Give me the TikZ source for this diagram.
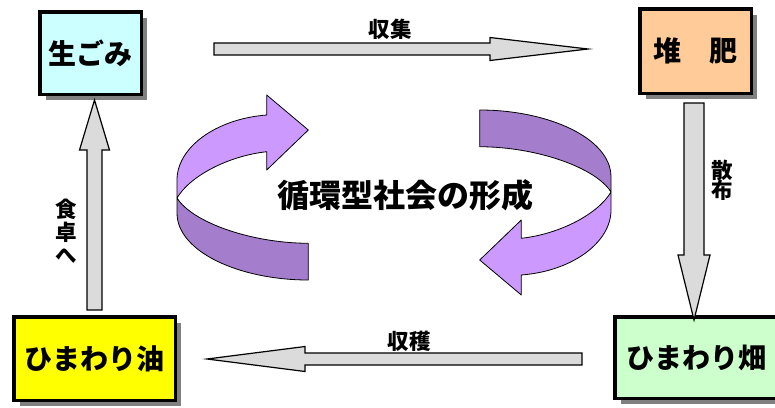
\documentclass[tikz,border=0pt]{standalone}
\usepackage{fontspec}
\setmainfont{Noto Sans CJK JP}
\usetikzlibrary{calc,shadows}
\definecolor{gomi}{HTML}{CCFFFF}
\definecolor{taihi}{HTML}{FFCC99}
\definecolor{abura}{HTML}{FFFF00}
\definecolor{hatake}{HTML}{CCFFCC}
\definecolor{ribbon light}{HTML}{CC99FF}
\definecolor{ribbon dark}{HTML}{A57DCD}
\tikzset{box node/.style={draw, line width=3.5pt, inner sep=0pt,
    font=\fontsize{28}{30}\selectfont\bfseries,
    drop shadow={shadow xshift=6pt, shadow yshift=-6pt, fill=black!50, opacity=1}}}
\tikzset{block arrow/.style={draw, line width=1.2pt, fill=black!14, line join=miter}}
\tikzset{arrow label/.style={font=\fontsize{21.5}{23}\selectfont\bfseries, inner sep=0pt}}
\tikzset{ribbon edge/.style={draw, line width=0.8pt, line join=round}}
% from, to, shaft half width, head half width, head length
\newcommand{\blockarrow}[5]{%
  \coordinate (ba-base) at ($(#2)!#5!(#1)$);
  \path[block arrow] ($(#1)!#3!90:(#2)$) -- ($(ba-base)!#3!90:(#2)$)
    -- ($(ba-base)!#4!90:(#2)$) -- (#2) -- ($(ba-base)!#4!-90:(#2)$)
    -- ($(ba-base)!#3!-90:(#2)$) -- ($(#1)!#3!-90:(#2)$) -- cycle;}
\newcommand{\ribbonpair}{%
  \path[ribbon edge, fill=ribbon dark] (177,198)
    .. controls (192,222) and (250,243) .. (308.3,243.3) -- (308.3,280)
    .. controls (240,280) and (177,252) .. (177,213) -- cycle;
  \path[ribbon edge, fill=ribbon light] (177,198) -- (177,180)
    .. controls (177,148) and (215,119) .. (266.7,115) -- (266.7,95)
    -- (308.3,130) -- (266.7,170) -- (266.7,151.7)
    .. controls (228,156) and (190,176) .. cycle;}

\begin{document}
\begin{tikzpicture}[x=1pt, y=-1pt]
  \useasboundingbox (0,0) rectangle (775,407);
  \node [box node, fill=gomi, minimum width=101.5pt, minimum height=82.5pt]   (gomi)   at ( 90.5, 53)   {生ごみ};
  \node [box node, fill=taihi, minimum width=111.5pt, minimum height=84.5pt]  (taihi)  at (695.5, 51)   {堆　肥};
  \node [box node, fill=abura, minimum width=161.5pt, minimum height=83.5pt]  (abura)  at ( 94.5, 358.5) {ひまわり油};
  \node [box node, fill=hatake, minimum width=162.5pt, minimum height=81.5pt] (hatake) at (696, 357.5)  {ひまわり畑};

  \coordinate (collect start) at (214, 49);
  \coordinate (collect end)   at (588, 49);
  \coordinate (spread start)  at (694, 103);
  \coordinate (spread end)    at (694, 320);
  \coordinate (harvest start) at (582, 359);
  \coordinate (harvest end)   at (207, 359);
  \coordinate (table start)   at (94.5, 310);
  \coordinate (table end)     at (94.5, 100);

  \blockarrow{collect start}{collect end}{6pt}{11.5pt}{98pt}
  \blockarrow{spread start}{spread end}{10pt}{16pt}{65pt}
  \blockarrow{harvest start}{harvest end}{6pt}{12.5pt}{98pt}
  \blockarrow{table start}{table end}{7.5pt}{15pt}{50pt}

  \node [arrow label] (collect) at (390, 29)  {収集};
  \node [arrow label] (harvest) at (409, 341) {収穫};
  \node [arrow label, align=center] (spread) at (722, 180)
    {散\\[-3pt]布};
  \node [arrow label, align=center] (table) at (66, 231)
    {食\\卓\\へ};

  \ribbonpair
  \begin{scope}[rotate around={180:(394,195)}]
    \ribbonpair
  \end{scope}
  \node [font=\fontsize{32}{34}\selectfont\bfseries, inner sep=0pt] (cycle) at (405, 195) {循環型社会の形成};
\end{tikzpicture}
\end{document}
